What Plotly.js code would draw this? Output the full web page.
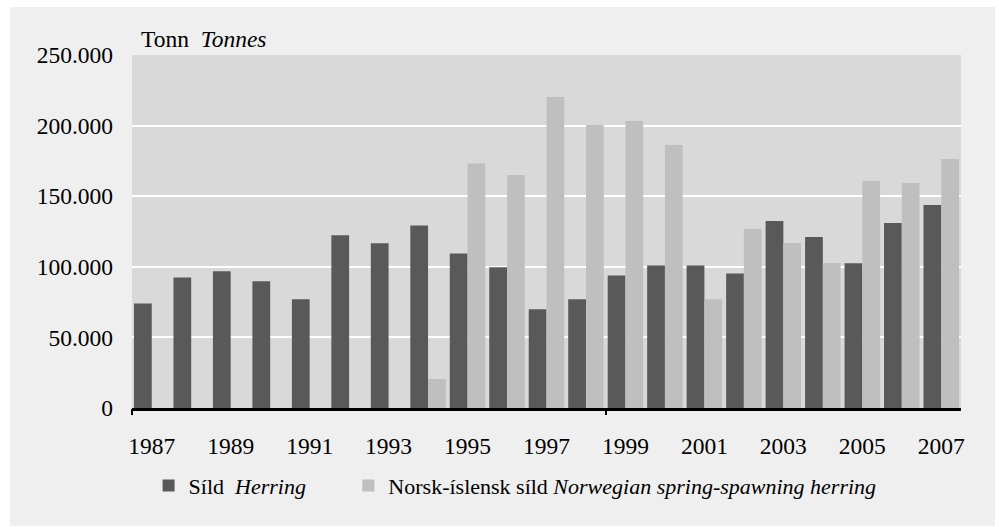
<!DOCTYPE html>
<html>
<head>
<meta charset="utf-8">
<script src="https://cdn.plot.ly/plotly-3.0.1.min.js"></script>
<style>
  html, body { margin: 0; padding: 0; background: #ffffff; }
  #chart { position: absolute; left: 10px; top: 7px; width: 985px; height: 519px; }
</style>
</head>
<body>
<div id="chart"></div>
<script>
const years = ['1987','1988','1989','1990','1991','1992','1993','1994','1995','1996','1997',
               '1998','1999','2000','2001','2002','2003','2004','2005','2006','2007'];
const herring = [74000, 92500, 96800, 89700, 77000, 122300, 116600, 129300, 109500, 99600, 69900,
                 77000, 93900, 101000, 101000, 95300, 132400, 121100, 102600, 131000, 143700];
const norwegian = [null, null, null, null, null, null, null, 20500, 173200, 165000, 220200,
                   200400, 203200, 186200, 77000, 126700, 116800, 102700, 160700, 159300, 176300];
const xTickLabels = ['1987','1989','1991','1993','1995','1997','1999','2001','2003','2005','2007'];
const yTickVals = [0, 50000, 100000, 150000, 200000, 250000];
const yTickText = ['0', '50.000', '100.000', '150.000', '200.000', '250.000'];
const herringName = 'Síld&nbsp; <i>Herring</i>';
const norwegianName = 'Norsk-íslensk síld <i>Norwegian spring-spawning herring</i>';
const unitTitle = 'Tonn&nbsp; <i>Tonnes</i>';

const font = '"Liberation Serif", serif';

const traces = [
  { type: 'bar', x: years, y: herring, name: herringName, legend: 'legend',
    marker: { color: '#595959' }, hoverinfo: 'x+y' },
  { type: 'bar', x: years, y: norwegian, name: norwegianName, legend: 'legend2',
    marker: { color: '#bfbfbf' }, hoverinfo: 'x+y' },
  { type: 'scatter', x: [], y: [], xaxis: 'x2', showlegend: false, hoverinfo: 'skip' }
];

const legendBase = {
  orientation: 'h', xanchor: 'left', y: -0.22, yanchor: 'middle',
  bgcolor: 'rgba(0,0,0,0)', font: { family: font, size: 22 }, itemwidth: 30
};

const layout = {
  width: 985, height: 519,
  paper_bgcolor: '#efefef',
  plot_bgcolor: '#d9d9d9',
  margin: { l: 122, r: 34, t: 48, b: 118 },
  font: { family: font, size: 23.5, color: '#000000' },
  barmode: 'group',
  bargap: 0.1,
  bargroupgap: 0,
  showlegend: true,
  legend: Object.assign({}, legendBase, { x: 0.02 }),
  legend2: Object.assign({}, legendBase, { x: 0.261 }),
  xaxis: {
    type: 'category', categoryorder: 'array', categoryarray: years,
    tickmode: 'array', tickvals: xTickLabels, ticktext: xTickLabels,
    ticks: '', showgrid: false, zeroline: false,
    showline: true, linecolor: '#000000', linewidth: 3,
    ticklabelstandoff: 15,
    tickfont: { family: font, size: 23.5 },
    range: [-0.5, 20.5], fixedrange: true
  },
  xaxis2: {
    overlaying: 'x', anchor: 'y', side: 'bottom', type: 'linear',
    range: [-0.5, 20.5], tickmode: 'array', tickvals: [-0.5, 11.5],
    ticks: 'outside', ticklen: 6, tickwidth: 2, tickcolor: '#000000',
    showticklabels: false, showgrid: false, zeroline: false, showline: false
  },
  yaxis: {
    range: [0, 250000], tickmode: 'array', tickvals: yTickVals, ticktext: yTickText,
    showgrid: true, gridcolor: '#ffffff', gridwidth: 2,
    zeroline: false, showline: false, ticks: '',
    ticklabelstandoff: 18,
    tickfont: { family: font, size: 23.5 }, fixedrange: true
  },
  annotations: [{
    text: unitTitle, xref: 'paper', yref: 'paper', x: 0.008, y: 1.0,
    xanchor: 'left', yanchor: 'bottom', yshift: 1, showarrow: false,
    font: { family: font, size: 23.5 }
  }]
};

Plotly.newPlot('chart', traces, layout, { displayModeBar: false, staticPlot: true });
</script>
</body>
</html>
